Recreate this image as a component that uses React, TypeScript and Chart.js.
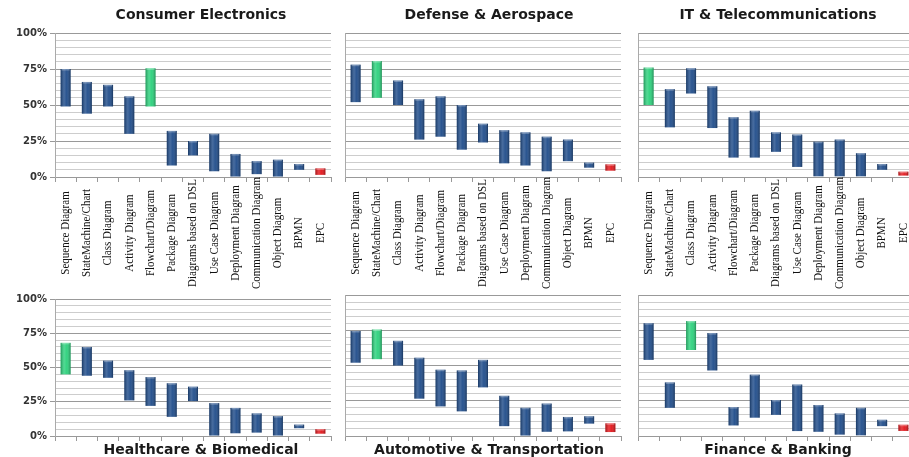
import React, { useEffect, useRef } from 'react';
import { Chart, registerables } from 'chart.js';
Chart.register(...registerables);

const categories = [
  'Sequence Diagram', 'StateMachine/Chart', 'Class Diagram', 'Activity Diagram',
  'Flowchart/Diagram', 'Package Diagram', 'Diagrams based on DSL', 'Use Case Diagram',
  'Deployment Diagram', 'Communication Diagram', 'Object Diagram', 'BPMN', 'EPC',
];

const yTickLabels = [0, 25, 50, 75, 100];

const consumerLow = [49, 44, 49, 30, 49, 8, 15, 4, 0, 2, 0, 5, 1.5];
const consumerHigh = [75, 66, 64, 56, 75.5, 32, 25, 30, 16, 11, 12, 9, 6];
const defenseLow = [52, 55, 50, 26, 28, 19, 24, 9.5, 8, 4, 11, 6.5, 4.4];
const defenseHigh = [78, 80.5, 67, 54, 56, 50, 37, 32.5, 31, 28, 26, 10, 8.8];
const itLow = [50, 34.5, 58, 34, 13.5, 13.5, 17.5, 7, 0.5, 0.5, 0.5, 5, 1];
const itHigh = [76, 61, 75.5, 63, 41.5, 46, 31, 29.5, 24.5, 26, 16.5, 9, 3.7];
const healthLow = [45, 44, 42.5, 26, 22, 14, 25.5, 0, 2, 2.5, 0, 5.7, 1.7];
const healthHigh = [68, 65, 55, 48, 43, 38.5, 36, 24, 20.5, 16.5, 14.5, 8.3, 5];
const autoLow = [52, 54.5, 50, 26.5, 21, 17.5, 34.5, 7, 0, 3, 3.3, 8.8, 2.8];
const autoHigh = [74.5, 75.5, 67.5, 55.5, 47, 46.5, 54, 28.5, 20, 23, 13.5, 14, 9];
const financeLow = [54, 20, 61, 46.5, 7.5, 13, 15, 3.5, 3, 1, 0.5, 7, 3.6];
const financeHigh = [80, 38, 81.5, 73, 20.5, 43.5, 25.5, 36.5, 22, 16, 20, 11.5, 8];

const titles = [
  'Consumer Electronics', 'Defense & Aerospace', 'IT & Telecommunications',
  'Healthcare & Biomedical', 'Automotive & Transportation', 'Finance & Banking',
];
const lows = [consumerLow, defenseLow, itLow, healthLow, autoLow, financeLow];
const highs = [consumerHigh, defenseHigh, itHigh, healthHigh, autoHigh, financeHigh];
const highlighted = [4, 1, 0, 0, 1, 2];
const redIndex = 12;

const BLUE = '#1F4C8A';
const GREEN = '#2CD17C';
const RED = '#E3171C';

const cols = [
  { left: 0, width: 335, yW: 55, padR: 4, showY: true, titleDX: 8 },
  { left: 335, width: 291, yW: 10, padR: 5, showY: false, titleDX: 6 },
  { left: 628, width: 286, yW: 10, padR: 0, showY: false, titleDX: 2 },
];
const rows = [
  { top: 0, height: 290, padT: 33, padB: 108, titleTop: true, labels: true },
  { top: 290, height: 167, padT: 5, padB: 16, titleTop: false, labels: false },
];

function Panel({ idx }: { idx: number }) {
  const ref = useRef<HTMLCanvasElement | null>(null);
  const col = cols[idx % 3];
  const row = rows[Math.floor(idx / 3)];
  useEffect(() => {
    if (!ref.current) return;
    const colors = categories.map((_, i) =>
      i === redIndex ? RED : i === highlighted[idx] ? GREEN : BLUE);
    const decor = {
      id: 'decor',
      afterDatasetsDraw(chart: any) {
        const ctx = chart.ctx;
        const meta = chart.getDatasetMeta(0);
        meta.data.forEach((bar: any) => {
          const { x, y, base, width } = bar.getProps(['x', 'y', 'base', 'width'], true);
          const l = x - width / 2;
          const g = ctx.createLinearGradient(l, 0, l + width, 0);
          g.addColorStop(0, 'rgba(0,0,0,0.28)');
          g.addColorStop(0.35, 'rgba(255,255,255,0.18)');
          g.addColorStop(0.6, 'rgba(255,255,255,0.05)');
          g.addColorStop(1, 'rgba(0,0,0,0.32)');
          ctx.save();
          ctx.fillStyle = g;
          ctx.fillRect(l, Math.min(y, base), width, Math.abs(base - y));
          ctx.fillStyle = 'rgba(255,255,255,0.3)';
          ctx.fillRect(l + 1, Math.min(y, base), width - 2, 1.5);
          ctx.restore();
        });
      },
      afterDraw(chart: any) {
        const ctx = chart.ctx;
        const area = chart.chartArea;
        const xs = chart.scales.x;
        ctx.save();
        ctx.fillStyle = '#1a1a1a';
        ctx.font = 'bold 14px "DejaVu Sans"';
        ctx.textAlign = 'center';
        ctx.textBaseline = 'middle';
        const tx = (area.left + area.right) / 2 + col.titleDX;
        const ty = row.titleTop ? 15 : chart.height - 7;
        ctx.fillText(titles[idx], tx, ty);
        if (row.labels) {
          ctx.font = '11px "Liberation Serif"';
          ctx.fillStyle = '#111';
          categories.forEach((c, i) => {
            const px = xs.getPixelForValue(i);
            ctx.save();
            ctx.translate(px, 233);
            ctx.scale(1.15, 1);
            ctx.rotate(-Math.PI / 2);
            ctx.textAlign = 'center';
            ctx.textBaseline = 'middle';
            ctx.fillText(c, 0, 0);
            ctx.restore();
          });
        }
        ctx.restore();
      },
    };
    const chart = new Chart(ref.current, {
      type: 'bar',
      data: {
        labels: categories,
        datasets: [{
          data: lows[idx].map((l, i) => [l, highs[idx][i]]) as any,
          backgroundColor: colors,
          borderWidth: 0,
          borderSkipped: false,
          barPercentage: 0.47,
          categoryPercentage: 1,
        }],
      },
      options: {
        animation: false,
        responsive: false,
        events: [],
        layout: { padding: { top: row.padT, bottom: row.padB, left: 0, right: col.padR } },
        plugins: { legend: { display: false }, tooltip: { enabled: false }, title: { display: false } },
        scales: {
          x: {
            type: 'category',
            offset: true,
            grid: { display: true, offset: true, drawOnChartArea: false, drawTicks: true, tickLength: 5, color: '#999' },
            border: { display: true, color: '#999', width: 1 },
            ticks: { display: false },
            afterFit: (s: any) => { s.height = 5; },
          },
          y: {
            min: 0,
            max: 100,
            afterBuildTicks: (s: any) => {
              const t: any[] = [];
              for (let v = 0; v <= 100; v += 5) t.push({ value: v });
              s.ticks = t;
            },
            ticks: {
              display: col.showY,
              autoSkip: false,
              padding: 3,
              color: '#333',
              font: { family: '"DejaVu Sans"', weight: 'bold', size: 10 },
              callback: (v: any) => (yTickLabels.includes(Number(v)) ? v + '%' : ''),
            },
            grid: {
              color: (c: any) => (c.tick && c.tick.value % 25 === 0 ? '#999' : '#cdcdcd'),
              tickColor: (c: any) => (c.tick && c.tick.value % 25 === 0 ? '#999' : 'rgba(0,0,0,0)'),
              drawTicks: col.showY,
              tickLength: 5,
              lineWidth: 1,
            },
            border: { display: true, color: '#aaa' },
            afterFit: (s: any) => { s.width = col.yW; },
          },
        },
      },
      plugins: [decor],
    } as any);
    return () => chart.destroy();
  }, [idx]);
  return (
    <canvas
      ref={ref}
      width={col.width}
      height={row.height}
      style={{ position: 'absolute', left: col.left, top: row.top, width: col.width, height: row.height }}
    />
  );
}

export default function App() {
  return (
    <div style={{ position: 'fixed', left: 0, top: 0, width: 909, height: 457, overflow: 'hidden', background: '#fff' }}>
      {[0, 1, 2, 3, 4, 5].map((i) => <Panel key={i} idx={i} />)}
    </div>
  );
}
